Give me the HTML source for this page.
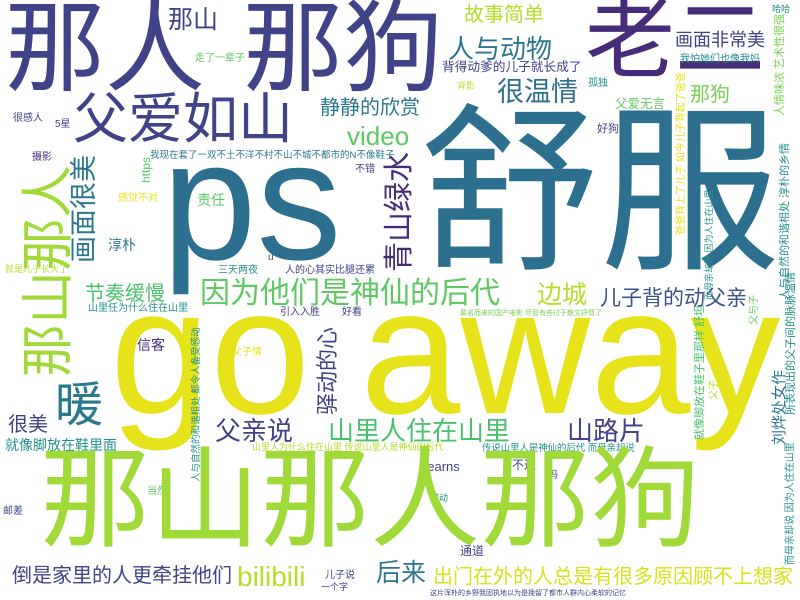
<!DOCTYPE html>
<html><head><meta charset="utf-8">
<style>
html,body{margin:0;padding:0;background:#fff;}
#cloud{position:relative;width:800px;height:600px;overflow:hidden;background:#fff;font-family:"Liberation Sans","Noto Sans CJK SC",sans-serif;}
#cloud div{position:absolute;white-space:nowrap;line-height:1;}
.v{transform-origin:0 0;transform:rotate(-90deg);}
</style></head><body>
<div id="cloud">
<div style="left:5px;top:-1px;font-size:100px;color:#404387">那人</div>
<div style="left:243px;top:-1px;font-size:100px;color:#404387">那狗</div>
<div style="left:585px;top:-5px;font-size:90px;color:#472c7a">老二</div>
<div style="left:73px;top:92px;font-size:55px;color:#404387">父爱如山</div>
<div style="left:168px;top:8px;font-size:25px;color:#404387">那山</div>
<div style="left:464px;top:5px;font-size:20px;color:#b5de2b">故事简单</div>
<div style="left:448px;top:36px;font-size:26px;color:#2a788e">人与动物</div>
<div style="left:497px;top:79px;font-size:27px;color:#2d6f8e">很温情</div>
<div style="left:442px;top:61px;font-size:12.7px;color:#404387">背得动爹的儿子就长成了</div>
<div style="left:320px;top:98px;font-size:20px;color:#2a788e">静静的欣赏</div>
<div style="left:347px;top:123px;font-size:26px;color:#5ec962">video</div>
<div style="left:675px;top:31px;font-size:18px;color:#404387">画面非常美</div>
<div style="left:680px;top:55px;font-size:10px;color:#21918c">我怕她们也像我妈</div>
<div style="left:690px;top:85px;font-size:20px;color:#7ad151">那狗</div>
<div style="left:615px;top:98px;font-size:12.5px;color:#5ec962">父爱无言</div>
<div style="left:772px;top:5px;font-size:9px;color:#21918c">哈哈</div>
<div style="left:597px;top:124px;font-size:11px;color:#404387">好狗</div>
<div style="left:588px;top:79px;font-size:10px;color:#21918c">孤独</div>
<div style="left:457px;top:82px;font-size:9px;color:#b5de2b">背影</div>
<div style="left:195px;top:54px;font-size:10px;color:#5ec962">走了一辈子</div>
<div style="left:150px;top:151px;font-size:9.5px;color:#2a788e">我现在套了一双不土不洋不村不山不城不都市的N不像鞋子</div>
<div class="v" style="left:140px;top:183px;font-size:12px;color:#5ec962">https</div>
<div style="left:355px;top:165px;font-size:10px;color:#404387">不错</div>
<div style="left:197px;top:193px;font-size:14px;color:#5ec962">责任</div>
<div style="left:118px;top:194px;font-size:10px;color:#e5e419">感觉不对</div>
<div style="left:108px;top:238px;font-size:14px;color:#2a788e">淳朴</div>
<div style="left:268px;top:253px;font-size:10px;color:#404387">u</div>
<div style="left:218px;top:266px;font-size:10px;color:#21918c">三天两夜</div>
<div style="left:285px;top:266px;font-size:10px;color:#404387">人的心其实比腿还累</div>
<div style="left:55px;top:120px;font-size:10px;color:#404387">5星</div>
<div style="left:13px;top:114px;font-size:10px;color:#404387">很感人</div>
<div style="left:32px;top:153px;font-size:10px;color:#472c7a">摄影</div>
<div style="left:5px;top:265px;font-size:9px;color:#b5de2b">就是儿子长大了</div>
<div style="left:162px;top:116px;font-size:170px;color:#2d6f8e">ps</div>
<div style="left:420px;top:104px;font-size:180px;color:#2d6f8e">舒服</div>
<div class="v" style="left:385px;top:272px;font-size:30px;color:#472c7a">青山绿水</div>
<div style="left:200px;top:279px;font-size:30px;color:#5ec962">因为他们是神仙的后代</div>
<div style="left:85px;top:284px;font-size:20px;color:#4ac16d">节奏缓慢</div>
<div style="left:537px;top:283px;font-size:25px;color:#b5de2b">边城</div>
<div style="left:600px;top:288px;font-size:21px;color:#3b528b">儿子背的动父亲</div>
<div class="v" style="left:22px;top:377px;font-size:53px;color:#a0da39">那山那人</div>
<div style="left:55px;top:382px;font-size:48px;color:#2a788e">暖</div>
<div class="v" style="left:71px;top:263px;font-size:27px;color:#2a788e">画面很美</div>
<div style="left:110px;top:262px;font-size:180px;color:#e7e31a">go away</div>
<div style="left:8px;top:415px;font-size:20px;color:#404387">很美</div>
<div style="left:5px;top:438px;font-size:14px;color:#21918c">就像脚放在鞋里面</div>
<div style="left:88px;top:304px;font-size:10px;color:#21918c">山里任为什么住在山里</div>
<div style="left:280px;top:308px;font-size:10px;color:#404387">引入入胜</div>
<div style="left:342px;top:308px;font-size:10px;color:#404387">好看</div>
<div style="left:137px;top:338px;font-size:14px;color:#472c7a">信客</div>
<div style="left:232px;top:348px;font-size:10px;color:#e5e419">父子情</div>
<div class="v" style="left:317px;top:415px;font-size:22px;color:#404387">驿动的心</div>
<div class="v" style="left:192px;top:482px;font-size:9.5px;color:#21918c">人与自然的和谐相处 都令人备受感动</div>
<div style="left:215px;top:418px;font-size:26px;color:#404387">父亲说</div>
<div style="left:328px;top:418px;font-size:26px;color:#4ac16d">山里人住在山里</div>
<div style="left:567px;top:418px;font-size:26px;color:#404387">山路片</div>
<div style="left:482px;top:443px;font-size:9.4px;color:#21918c">传说山里人是神仙的后代 而母亲却说</div>
<div style="left:252px;top:443px;font-size:9px;color:#b5de2b">山里人为什么住在山里 传说山里人是神仙的后代</div>
<div style="left:420px;top:460px;font-size:13px;color:#404387">Learns</div>
<div style="left:512px;top:459px;font-size:12px;color:#404387">不过</div>
<div style="left:548px;top:471px;font-size:10px;color:#404387">妈</div>
<div style="left:430px;top:494px;font-size:9px;color:#21918c">感动</div>
<div style="left:147px;top:487px;font-size:10px;color:#5ec962">当然</div>
<div style="left:3px;top:507px;font-size:10px;color:#404387">邮差</div>
<div style="left:460px;top:545px;font-size:12px;color:#404387">通道</div>
<div style="left:40px;top:446px;font-size:110px;color:#a0da39">那山那人那狗</div>
<div style="left:12px;top:566px;font-size:20px;color:#404387">倒是家里的人更牵挂他们</div>
<div style="left:237px;top:563px;font-size:28px;color:#b5de2b">bilibili</div>
<div style="left:376px;top:561px;font-size:25px;color:#2a788e">后来</div>
<div style="left:433px;top:567px;font-size:20px;color:#d8e219">出门在外的人总是有很多原因顾不上想家</div>
<div style="left:325px;top:571px;font-size:10px;color:#404387">儿子说</div>
<div style="left:321px;top:583px;font-size:9px;color:#404387">一个字</div>
<div style="left:430px;top:590px;font-size:7px;color:#404387">这片浑朴的乡野我固执地以为是挽留了都市人群内心柔软的记忆</div>
<div style="left:460px;top:310px;font-size:7px;color:#7ad151">慕名而来的国产电影 尽管有些过于散文抒情了</div>
<div class="v" style="left:677px;top:235px;font-size:10px;color:#e5e419">爸爸背上了儿子 如今儿子背起了爸爸</div>
<div class="v" style="left:775px;top:116px;font-size:11px;color:#7ad151">人情味浓 艺术性很强</div>
<div class="v" style="left:705px;top:300px;font-size:9px;color:#21918c">而母亲却说 因为人住在山里</div>
<div class="v" style="left:780px;top:300px;font-size:11px;color:#21918c">人与自然的和谐相处 淳朴的乡情</div>
<div class="v" style="left:750px;top:325px;font-size:10px;color:#5ec962">父与子</div>
<div class="v" style="left:786px;top:415px;font-size:11px;color:#21918c">所表现出的父子间的脉脉温情</div>
<div class="v" style="left:772px;top:445px;font-size:15px;color:#2a788e">刘烨处女作</div>
<div class="v" style="left:695px;top:440px;font-size:11px;color:#4ac16d">就像脚放在鞋子里那样 舒坦</div>
<div class="v" style="left:710px;top:400px;font-size:10px;color:#b5de2b">父子</div>
<div class="v" style="left:786px;top:565px;font-size:10px;color:#21918c">而母亲却说 因为人住在山里</div>
</div>
</body></html>
